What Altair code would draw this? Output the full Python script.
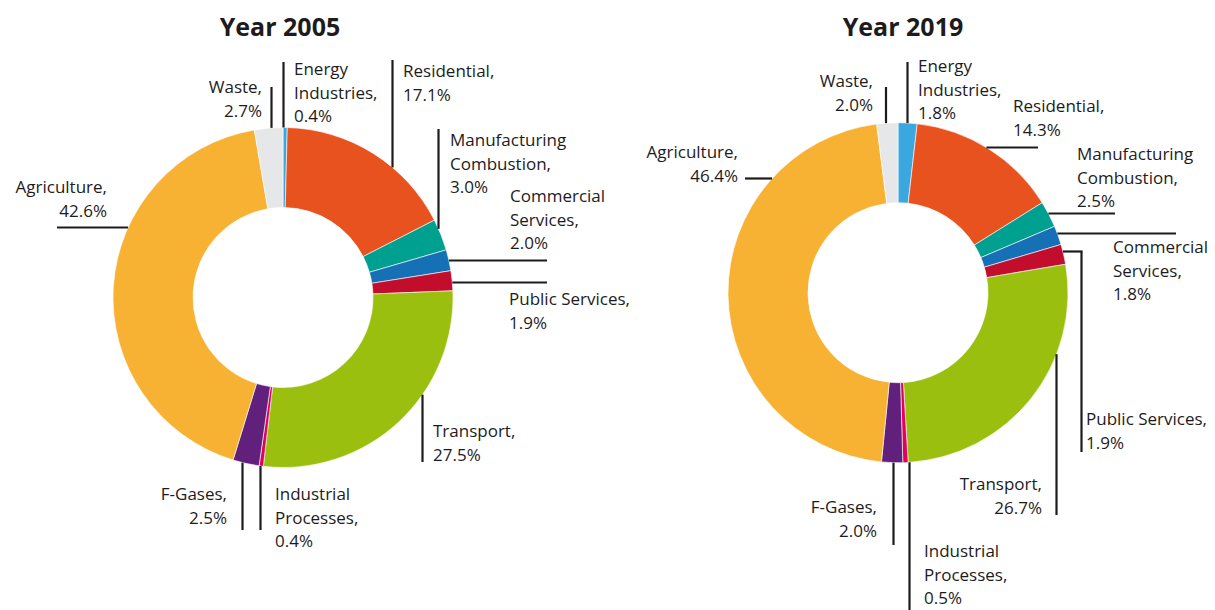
import math
import altair as alt
import pandas as pd

# ---------------- data ----------------
categories = ["Energy Industries", "Residential", "Manufacturing Combustion",
              "Commercial Services", "Public Services", "Transport",
              "Industrial Processes", "F-Gases", "Agriculture", "Waste"]
values_2005 = [0.4, 17.1, 3.0, 2.0, 1.9, 27.5, 0.4, 2.5, 42.6, 2.7]
values_2019 = [1.8, 14.3, 2.5, 1.8, 1.9, 26.7, 0.5, 2.0, 46.4, 2.0]
colors = ["#3AA8DE", "#E8521E", "#00A090", "#1570B6", "#C20E2C",
          "#9BBF0E", "#E2005B", "#62207D", "#F7B234", "#E6E7E8"]
years = ["2005", "2019"]
titles = ["Year 2005", "Year 2019"]
display_names = {
    "Energy Industries": "Energy\nIndustries",
    "Manufacturing Combustion": "Manufacturing\nCombustion",
    "Commercial Services": "Commercial\nServices",
    "Industrial Processes": "Industrial\nProcesses",
}

# ---------------- layout (page pixels) ----------------
OFF = 8
W, H = 1199, 602
R_OUT, R_IN = 170, 90
centers = {"2005": (283, 297.5), "2019": (898, 292.7)}
title_pos = {"2005": (280, 36), "2019": (903, 36)}

# label: (x, first baseline y, align); leader: (kind, ...)
layout = {
    "2005": {
        "Energy Industries": ((294, 75, "left"), ("v", 283.5, 62)),
        "Waste": ((262, 93, "right"), ("v", 271.5, 87)),
        "Residential": ((403, 77, "left"), ("v", 392.5, 60)),
        "Manufacturing Combustion": ((450, 146, "left"), ("v", 438.5, 129)),
        "Commercial Services": ((510, 202, "left"), ("h", 260.5, 547)),
        "Public Services": ((509, 305, "left"), ("h", 282.5, 547)),
        "Transport": ((433, 437, "left"), ("v", 422.5, 462)),
        "Industrial Processes": ((275, 500, "left"), ("v", 260.5, 530)),
        "F-Gases": ((227, 500, "right"), ("v", 242.5, 530)),
        "Agriculture": ((107, 193, "right"), ("h", 227.5, 57)),
    },
    "2019": {
        "Energy Industries": ((918, 72, "left"), ("v", 907.5, 62)),
        "Waste": ((873, 87, "right"), ("v", 886, 87)),
        "Residential": ((1013, 112, "left"), ("h", 147.5, 1038)),
        "Manufacturing Combustion": ((1077, 160, "left"), ("h", 213.5, 1115)),
        "Commercial Services": ((1113, 253, "left"), ("h", 233.5, 1176)),
        "Public Services": ((1086, 425, "left"), ("hv", 251.5, 1081.5, 452)),
        "Transport": ((1042, 490, "right"), ("v", 1056.5, 515)),
        "Industrial Processes": ((924, 557, "left"), ("v", 909.5, 612)),
        "F-Gases": ((877, 513, "right"), ("v", 893.5, 545)),
        "Agriculture": ((738, 158, "right"), ("h", 178.5, 745)),
    },
}

# ---------------- build tables ----------------
series = {"2005": values_2005, "2019": values_2019}
slices = []
for yr in years:
    cx, cy = centers[yr]
    for i, (c, v) in enumerate(zip(categories, series[yr])):
        slices.append({"year": yr, "category": c, "value": v, "idx": i,
                       "cx": cx, "cy": cy})
slices_df = pd.DataFrame(slices)

labels, rules = [], []
for yr in years:
    cx, cy = centers[yr]
    for c, v in zip(categories, series[yr]):
        (lx, ly, al), lead = layout[yr][c]
        labels.append({"year": yr, "text": f"{display_names.get(c, c)},\n{v:.1f}%",
                       "x": lx, "y": ly, "align": al})
        kind = lead[0]
        if kind == "v":
            X, yend = lead[1], lead[2]
            dy = math.sqrt(max(R_OUT**2 - (X - cx) ** 2, 0))
            y0 = cy - dy if yend < cy else cy + dy
            rules.append({"x": X, "y": y0, "x2": X, "y2": yend})
        elif kind == "h":
            Y, xend = lead[1], lead[2]
            dx = math.sqrt(max(R_OUT**2 - (Y - cy) ** 2, 0))
            x0 = cx + dx if xend > cx else cx - dx
            rules.append({"x": x0, "y": Y, "x2": xend, "y2": Y})
        else:  # elbow: horizontal then vertical
            Y, xc, yend = lead[1], lead[2], lead[3]
            dx = math.sqrt(max(R_OUT**2 - (Y - cy) ** 2, 0))
            x0 = cx + dx
            rules.append({"x": x0, "y": Y, "x2": xc + 1, "y2": Y})
            rules.append({"x": xc, "y": Y, "x2": xc, "y2": yend})
labels_df = pd.DataFrame(labels)
rules_df = pd.DataFrame(rules)
titles_df = pd.DataFrame({"text": titles,
                          "x": [title_pos[y][0] for y in years],
                          "y": [title_pos[y][1] for y in years]})

sx = alt.Scale(domain=[OFF, OFF + W], nice=False, zero=False)
sy = alt.Scale(domain=[OFF, OFF + H], nice=False, zero=False, reverse=True)
TXT = "#1E1B1C"

def arcs(yr):
    return alt.Chart(slices_df).transform_filter(
        alt.datum.year == yr
    ).mark_arc(innerRadius=R_IN, outerRadius=R_OUT, stroke="white",
               strokeWidth=0.6).encode(
        x=alt.X("cx:Q", scale=sx, axis=None),
        y=alt.Y("cy:Q", scale=sy, axis=None),
        theta=alt.Theta("value:Q", stack="normalize"),
        order=alt.Order("idx:Q"),
        color=alt.Color("category:N",
                        scale=alt.Scale(domain=categories, range=colors),
                        legend=None),
    )

rule_layer = alt.Chart(rules_df).mark_rule(color=TXT, strokeWidth=2.2).encode(
    x=alt.X("x:Q", scale=sx, axis=None),
    y=alt.Y("y:Q", scale=sy, axis=None),
    x2="x2:Q", y2="y2:Q",
)

def text_layer(al):
    return alt.Chart(labels_df).transform_filter(
        alt.datum.align == al
    ).mark_text(font="Open Sans", fontSize=17, lineBreak="\n", lineHeight=23.5,
                color=TXT, align=al, baseline="alphabetic").encode(
        x=alt.X("x:Q", scale=sx, axis=None),
        y=alt.Y("y:Q", scale=sy, axis=None),
        text="text:N",
    )

title_layer = alt.Chart(titles_df).mark_text(
    font="Open Sans", fontSize=25, fontWeight="bold", color=TXT,
    align="center", baseline="alphabetic").encode(
    x=alt.X("x:Q", scale=sx, axis=None),
    y=alt.Y("y:Q", scale=sy, axis=None),
    text="text:N",
)

chart = alt.layer(
    arcs("2005"), arcs("2019"), rule_layer,
    text_layer("left"), text_layer("right"), title_layer,
).properties(
    width=W, height=H, padding=0,
    autosize=alt.AutoSizeParams(type="none"),
).configure_view(stroke=None)

chart.save("out.html", embed_options={"renderer": "svg", "actions": False})
